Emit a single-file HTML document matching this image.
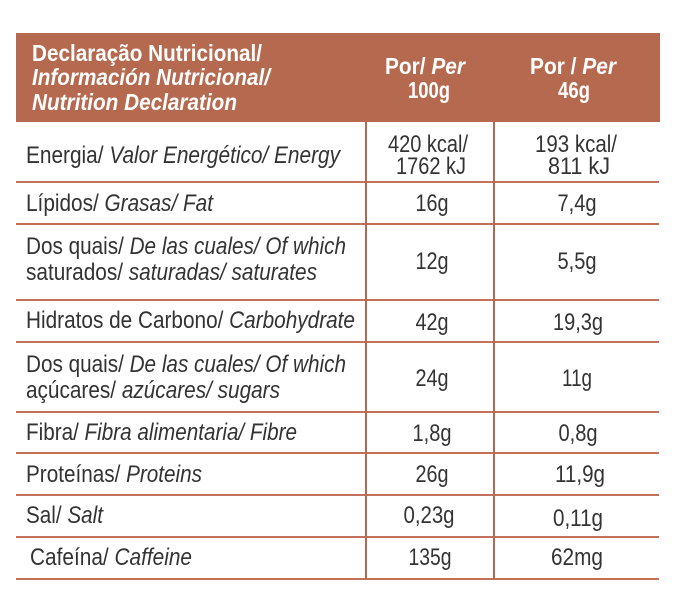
<!DOCTYPE html>
<html><head><meta charset="utf-8"><style>html,body{margin:0;padding:0;background:#fff}svg{display:block}</style></head>
<body>
<svg width="676" height="612" viewBox="0 0 676 612" xmlns="http://www.w3.org/2000/svg" font-family="Liberation Sans, sans-serif">
<rect x="16" y="33" width="644" height="89" fill="#b5694f"/>
<g stroke="#c2705a" stroke-width="2">
<line x1="16" y1="182" x2="659" y2="182"/>
<line x1="16" y1="224" x2="659" y2="224"/>
<line x1="16" y1="300" x2="659" y2="300"/>
<line x1="16" y1="342" x2="659" y2="342"/>
<line x1="16" y1="412" x2="659" y2="412"/>
<line x1="16" y1="453" x2="659" y2="453"/>
<line x1="16" y1="495" x2="659" y2="495"/>
<line x1="16" y1="537" x2="659" y2="537"/>
<line x1="16" y1="579" x2="659" y2="579"/>
</g>
<g stroke="#b5694f" stroke-width="2">
<line x1="366" y1="122" x2="366" y2="579"/>
<line x1="494" y1="122" x2="494" y2="579"/>
</g>
<g fill="#fff" font-weight="bold" font-size="23">
<text x="32" y="61" textLength="230" lengthAdjust="spacingAndGlyphs">Declaração Nutricional/</text>
<text x="32" y="85" textLength="238" lengthAdjust="spacingAndGlyphs" font-style="italic">Información Nutricional/</text>
<text x="32" y="110" textLength="205" lengthAdjust="spacingAndGlyphs" font-style="italic">Nutrition Declaration</text>
<text x="385" y="74" textLength="80" lengthAdjust="spacingAndGlyphs">Por/ <tspan font-style="italic">Per</tspan></text>
<text x="408" y="98" textLength="42" lengthAdjust="spacingAndGlyphs">100g</text>
<text x="530" y="74" textLength="86" lengthAdjust="spacingAndGlyphs">Por / <tspan font-style="italic">Per</tspan></text>
<text x="558" y="98" textLength="32" lengthAdjust="spacingAndGlyphs">46g</text>
</g>
<g fill="#333" font-size="24">
<text x="26" y="163" textLength="314" lengthAdjust="spacingAndGlyphs">Energia/ <tspan font-style="italic">Valor Energético/ Energy</tspan></text>
<text x="26" y="211" textLength="187" lengthAdjust="spacingAndGlyphs">Lípidos/ <tspan font-style="italic">Grasas/ Fat</tspan></text>
<text x="26" y="254" textLength="320" lengthAdjust="spacingAndGlyphs">Dos quais/ <tspan font-style="italic">De las cuales/ Of which</tspan></text>
<text x="26" y="280" textLength="291" lengthAdjust="spacingAndGlyphs">saturados/ <tspan font-style="italic">saturadas/ saturates</tspan></text>
<text x="26" y="328" textLength="329" lengthAdjust="spacingAndGlyphs">Hidratos de Carbono/ <tspan font-style="italic">Carbohydrate</tspan></text>
<text x="26" y="372" textLength="320" lengthAdjust="spacingAndGlyphs">Dos quais/ <tspan font-style="italic">De las cuales/ Of which</tspan></text>
<text x="26" y="398" textLength="254" lengthAdjust="spacingAndGlyphs">açúcares/ <tspan font-style="italic">azúcares/ sugars</tspan></text>
<text x="26" y="440" textLength="271" lengthAdjust="spacingAndGlyphs">Fibra/ <tspan font-style="italic">Fibra alimentaria/ Fibre</tspan></text>
<text x="26" y="482" textLength="176" lengthAdjust="spacingAndGlyphs">Proteínas/ <tspan font-style="italic">Proteins</tspan></text>
<text x="26" y="523" textLength="77" lengthAdjust="spacingAndGlyphs">Sal/ <tspan font-style="italic">Salt</tspan></text>
<text x="30" y="565" textLength="162" lengthAdjust="spacingAndGlyphs">Cafeína/ <tspan font-style="italic">Caffeine</tspan></text>
</g>
<g fill="#333" font-size="24" text-anchor="middle">
<text x="428" y="152" textLength="80" lengthAdjust="spacingAndGlyphs">420 kcal/</text>
<text x="431" y="174" textLength="70" lengthAdjust="spacingAndGlyphs">1762 kJ</text>
<text x="576" y="152" textLength="82" lengthAdjust="spacingAndGlyphs">193 kcal/</text>
<text x="579" y="174" textLength="62" lengthAdjust="spacingAndGlyphs">811 kJ</text>
<text x="432" y="211" textLength="33" lengthAdjust="spacingAndGlyphs">16g</text>
<text x="577" y="211" textLength="39" lengthAdjust="spacingAndGlyphs">7,4g</text>
<text x="432" y="269" textLength="33" lengthAdjust="spacingAndGlyphs">12g</text>
<text x="577" y="269" textLength="39" lengthAdjust="spacingAndGlyphs">5,5g</text>
<text x="432" y="330" textLength="33" lengthAdjust="spacingAndGlyphs">42g</text>
<text x="578" y="330" textLength="50" lengthAdjust="spacingAndGlyphs">19,3g</text>
<text x="432" y="386" textLength="33" lengthAdjust="spacingAndGlyphs">24g</text>
<text x="577" y="386" textLength="30" lengthAdjust="spacingAndGlyphs">11g</text>
<text x="432" y="441" textLength="39" lengthAdjust="spacingAndGlyphs">1,8g</text>
<text x="578" y="441" textLength="39" lengthAdjust="spacingAndGlyphs">0,8g</text>
<text x="432" y="482" textLength="33" lengthAdjust="spacingAndGlyphs">26g</text>
<text x="580" y="482" textLength="50" lengthAdjust="spacingAndGlyphs">11,9g</text>
<text x="429" y="523" textLength="51" lengthAdjust="spacingAndGlyphs">0,23g</text>
<text x="578" y="526" textLength="50" lengthAdjust="spacingAndGlyphs">0,11g</text>
<text x="430" y="565" textLength="43" lengthAdjust="spacingAndGlyphs">135g</text>
<text x="577" y="565" textLength="52" lengthAdjust="spacingAndGlyphs">62mg</text>
</g>
</svg>
</body></html>
